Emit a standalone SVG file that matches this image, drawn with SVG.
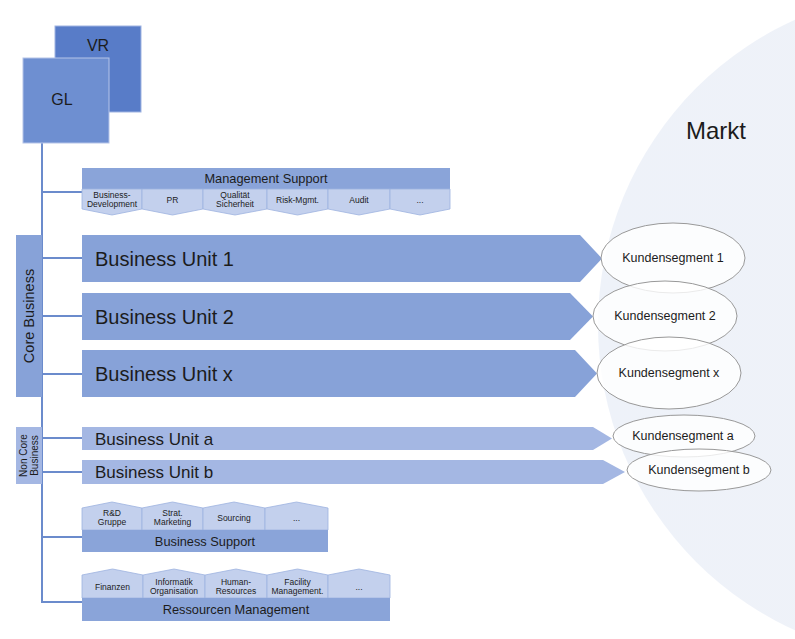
<svg xmlns="http://www.w3.org/2000/svg" width="795" height="639" viewBox="0 0 795 639">
  <defs>
    <linearGradient id="marketFill" x1="0" y1="0" x2="1" y2="0">
      <stop offset="0" stop-color="#eef2f9"/>
      <stop offset="0.55" stop-color="#eff2f8"/>
      <stop offset="0.56" stop-color="#f4f6fa"/>
      <stop offset="1" stop-color="#f4f6fa"/>
    </linearGradient>
  </defs>
  <style>
    text { font-family: "Liberation Sans", Arial, sans-serif; fill: #1c1c1c; }
    .conn { stroke: #6b8bcc; stroke-width: 2; fill: none; }
    .head { fill: #8aa4d9; }
    .cell { fill: #c3d0ed; stroke: #9db2df; stroke-width: 0.8; }
    .unit { fill: #87a2d8; }
    .unitLight { fill: #a4b7e3; }
    .seg { fill: #ffffff; fill-opacity: 0.8; stroke: #999999; stroke-width: 1; }
    .small { font-size: 8.5px; text-anchor: middle; }
    .hdr { font-size: 12.8px; text-anchor: middle; }
    .bu { font-size: 20px; }
    .bul { font-size: 17px; }
    .segt { font-size: 12.5px; text-anchor: middle; }
  </style>

  <!-- market area -->
  <g id="markt">
    <circle cx="933" cy="325" r="335" fill="url(#marketFill)"/>
    <text x="716" y="139" font-size="24" text-anchor="middle">Markt</text>
  </g>

  <!-- connectors -->
  <g id="connectors">
    <line class="conn" x1="42" y1="143" x2="42" y2="603"/>
    <line class="conn" x1="42" y1="192" x2="82" y2="192"/>
    <line class="conn" x1="42" y1="258" x2="82" y2="258"/>
    <line class="conn" x1="42" y1="316" x2="82" y2="316"/>
    <line class="conn" x1="42" y1="374" x2="82" y2="374"/>
    <line class="conn" x1="42" y1="438" x2="82" y2="438"/>
    <line class="conn" x1="42" y1="472" x2="82" y2="472"/>
    <line class="conn" x1="42" y1="537" x2="82" y2="537"/>
    <line class="conn" x1="42" y1="602" x2="82" y2="602"/>
  </g>

  <!-- board and management -->
  <g id="vr">
    <rect x="55" y="26" width="86" height="86" fill="#587cc8" stroke="#9fb4e2" stroke-width="1"/>
    <text x="98" y="51" font-size="16" text-anchor="middle">VR</text>
  </g>
  <g id="gl">
    <rect x="23" y="58" width="86" height="85" fill="#6e8fd1" stroke="#b4c3e8" stroke-width="1"/>
    <text x="62" y="105" font-size="16" text-anchor="middle">GL</text>
  </g>

  <!-- management support -->
  <g id="management-support">
    <rect class="head" x="82" y="168" width="368" height="21"/>
    <text class="hdr" x="266" y="183">Management Support</text>
    <polygon class="cell" points="82,189 142,189 142,209 112,215 82,209"/>
    <polygon class="cell" points="142,189 203,189 203,209 172.5,215 142,209"/>
    <polygon class="cell" points="203,189 267,189 267,209 235,215 203,209"/>
    <polygon class="cell" points="267,189 328,189 328,209 297.5,215 267,209"/>
    <polygon class="cell" points="328,189 390,189 390,209 359,215 328,209"/>
    <polygon class="cell" points="390,189 450,189 450,209 420,215 390,209"/>
    <text class="small" x="112" y="198">Business-</text>
    <text class="small" x="112" y="207">Development</text>
    <text class="small" x="172.5" y="203">PR</text>
    <text class="small" x="235" y="198">Qualität</text>
    <text class="small" x="235" y="207">Sicherheit</text>
    <text class="small" x="297.5" y="203">Risk-Mgmt.</text>
    <text class="small" x="359" y="203">Audit</text>
    <text class="small" x="420" y="203" fill="#7a7a7a">...</text>
  </g>

  <!-- core business -->
  <g id="core-business">
    <rect class="unit" x="16" y="235" width="26" height="162"/>
    <text x="34" y="316" font-size="14.5" text-anchor="middle" transform="rotate(-90 34 316)">Core Business</text>
  </g>
  <g id="business-unit-1">
    <polygon class="unit" points="82,235 580,235 602,258.5 580,282 82,282"/>
    <text class="bu" x="95" y="266">Business Unit 1</text>
  </g>
  <g id="business-unit-2">
    <polygon class="unit" points="82,293 570,293 593,316.5 570,340 82,340"/>
    <text class="bu" x="95" y="324">Business Unit 2</text>
  </g>
  <g id="business-unit-x">
    <polygon class="unit" points="82,350 575,350 597,373.5 575,397 82,397"/>
    <text class="bu" x="95" y="381">Business Unit x</text>
  </g>

  <!-- non core business -->
  <g id="non-core-business">
    <rect class="unitLight" x="16" y="427" width="26" height="57"/>
    <text x="27" y="455.5" font-size="10" text-anchor="middle" transform="rotate(-90 27 455.5)">Non Core</text>
    <text x="38" y="455.5" font-size="10" text-anchor="middle" transform="rotate(-90 38 455.5)">Business</text>
  </g>
  <g id="business-unit-a">
    <polygon class="unitLight" points="82,427 593,427 612,438.5 593,450 82,450"/>
    <text class="bul" x="95" y="444.5">Business Unit a</text>
  </g>
  <g id="business-unit-b">
    <polygon class="unitLight" points="82,460 603,460 625,472 603,484 82,484"/>
    <text class="bul" x="95" y="478">Business Unit b</text>
  </g>

  <!-- customer segments -->
  <g id="kundensegment-1">
    <ellipse class="seg" cx="673" cy="258" rx="72" ry="35"/>
    <text class="segt" x="673" y="262">Kundensegment 1</text>
  </g>
  <g id="kundensegment-2">
    <ellipse class="seg" cx="665" cy="316" rx="72" ry="35"/>
    <text class="segt" x="665" y="320">Kundensegment 2</text>
  </g>
  <g id="kundensegment-x">
    <ellipse class="seg" cx="669" cy="373" rx="72" ry="36"/>
    <text class="segt" x="669" y="377">Kundensegment x</text>
  </g>
  <g id="kundensegment-a">
    <ellipse class="seg" cx="684" cy="436" rx="71" ry="21"/>
    <text class="segt" x="683" y="440">Kundensegment a</text>
  </g>
  <g id="kundensegment-b">
    <ellipse class="seg" cx="699" cy="470" rx="72" ry="21"/>
    <text class="segt" x="699" y="474">Kundensegment b</text>
  </g>

  <!-- business support -->
  <g id="business-support">
    <polygon class="cell" points="82,530 82,508 112,502 142,508 142,530"/>
    <polygon class="cell" points="142,530 142,508 172.5,502 203,508 203,530"/>
    <polygon class="cell" points="203,530 203,508 234,502 265,508 265,530"/>
    <polygon class="cell" points="265,530 265,508 296.5,502 328,508 328,530"/>
    <rect class="head" x="82" y="530" width="246" height="22"/>
    <text class="small" x="112" y="516">R&amp;D</text>
    <text class="small" x="112" y="525">Gruppe</text>
    <text class="small" x="172.5" y="516">Strat.</text>
    <text class="small" x="172.5" y="525">Marketing</text>
    <text class="small" x="234" y="521">Sourcing</text>
    <text class="small" x="296.5" y="521" fill="#7a7a7a">...</text>
    <text class="hdr" x="205" y="546">Business Support</text>
  </g>

  <!-- resource management -->
  <g id="ressourcen-management">
    <polygon class="cell" points="82,598 82,575 112.5,569 143,575 143,598"/>
    <polygon class="cell" points="143,598 143,575 174,569 205,575 205,598"/>
    <polygon class="cell" points="205,598 205,575 236,569 267,575 267,598"/>
    <polygon class="cell" points="267,598 267,575 297.5,569 328,575 328,598"/>
    <polygon class="cell" points="328,598 328,575 359,569 390,575 390,598"/>
    <rect class="head" x="82" y="598" width="308" height="23"/>
    <text class="small" x="112.5" y="590">Finanzen</text>
    <text class="small" x="174" y="585">Informatik</text>
    <text class="small" x="174" y="594">Organisation</text>
    <text class="small" x="236" y="585">Human-</text>
    <text class="small" x="236" y="594">Resources</text>
    <text class="small" x="297.5" y="585">Facility</text>
    <text class="small" x="297.5" y="594">Management.</text>
    <text class="small" x="359" y="590" fill="#7a7a7a">...</text>
    <text class="hdr" x="236" y="614">Ressourcen Management</text>
  </g>
</svg>
